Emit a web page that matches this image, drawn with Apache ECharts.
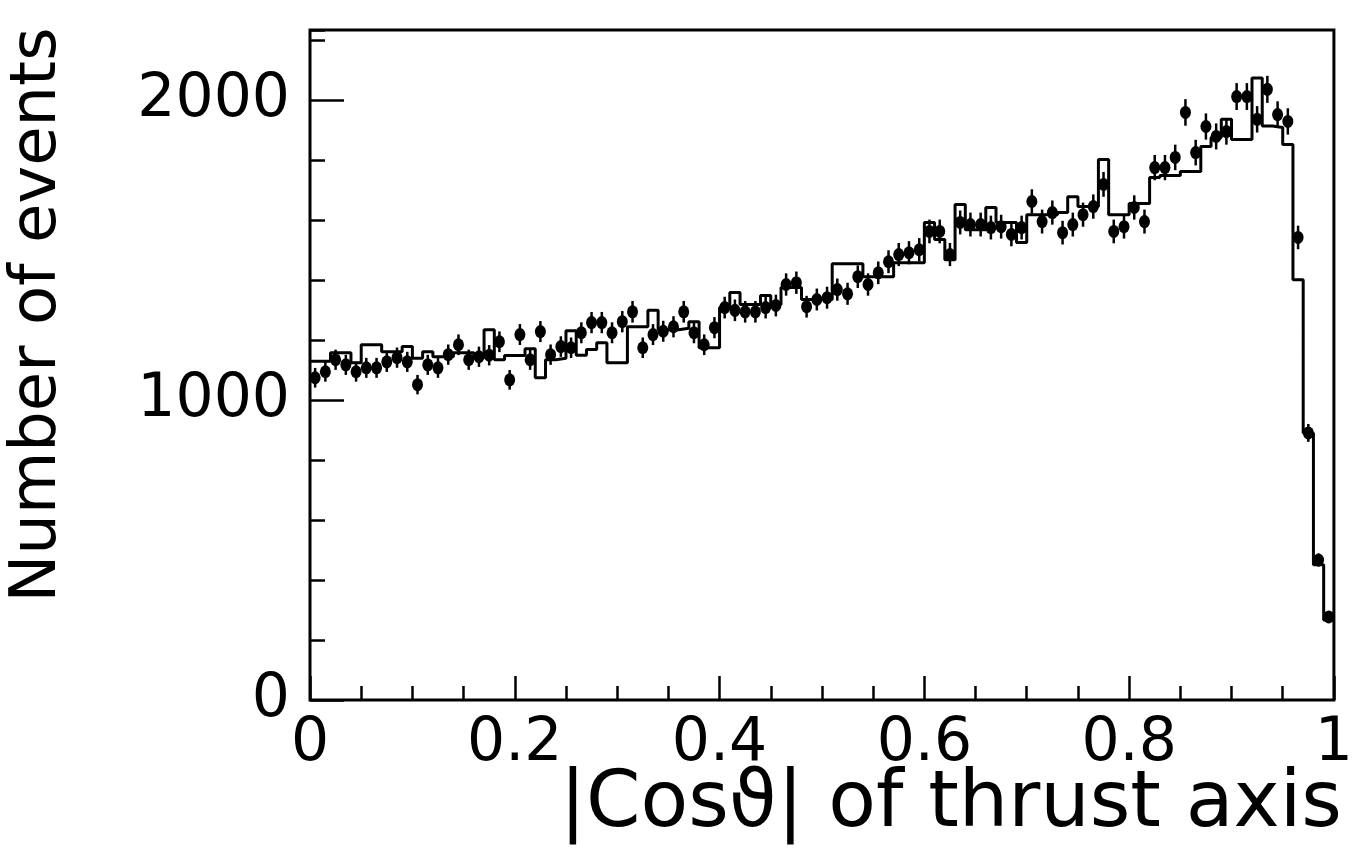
<!DOCTYPE html>
<html>
<head>
<meta charset="utf-8">
<script src="https://cdn.jsdelivr.net/npm/echarts@6/dist/echarts.min.js"></script>
<style>
html,body{margin:0;padding:0;background:#fff;}
#chart{width:1356px;height:854px;}
</style>
</head>
<body>
<div id="chart"></div>
<script>
// |cos theta| bins: 100 bins of width 0.01 from 0 to 1
const binWidth = 0.01;
const nBins = 100;

// Measured data (points with error bars), one value per bin
const dataCounts = [
  1075,1095,1135,1118,1095,1108,1108,1128,1142,1128,
  1052,1118,1108,1152,1185,1135,1145,1150,1195,1068,
  1219,1135,1229,1152,1179,1175,1225,1259,1259,1225,
  1262,1295,1175,1219,1230,1245,1295,1225,1185,1242,
  1309,1300,1295,1295,1309,1316,1386,1392,1312,1336,
  1342,1369,1355,1412,1386,1425,1462,1486,1492,1502,
  1563,1563,1486,1593,1586,1586,1576,1579,1553,1576,
  1663,1596,1626,1559,1586,1619,1646,1720,1563,1579,
  1643,1596,1776,1776,1810,1960,1826,1913,1880,1896,
  2013,2013,1937,2037,1953,1930,1543,891,467,277
];

// Simulation histogram, one value per bin
const mcCounts = [
  1130,1130,1158,1158,1125,1185,1185,1162,1162,1179,
  1140,1162,1145,1145,1158,1158,1142,1235,1135,1149,
  1149,1172,1075,1135,1140,1232,1150,1169,1192,1125,
  1125,1245,1245,1300,1235,1235,1240,1262,1175,1175,
  1309,1359,1319,1319,1349,1319,1376,1376,1336,1336,
  1336,1455,1455,1455,1412,1412,1412,1459,1459,1459,
  1593,1536,1469,1653,1569,1569,1643,1593,1593,1526,
  1619,1619,1619,1626,1679,1646,1646,1803,1619,1619,
  1656,1656,1743,1750,1750,1763,1763,1846,1876,1937,
  1870,1870,2075,1915,1910,1853,1402,891,451,267
];

const xTickLabels = ['0','0.2','0.4','0.6','0.8','1'];
const yTickLabels = ['0','1000','2000'];

// series built from the arrays
const pointData = dataCounts.map((v, i) => [(i + 0.5) * binWidth, v, Math.sqrt(v)]); // sqrt(N) statistical error
const histData = mcCounts.map((v, i) => [i * binWidth, v]);
histData.push([nBins * binWidth, mcCounts[nBins - 1]]);

const FONT = 'DejaVu Sans';
const chart = echarts.init(document.getElementById('chart'), null, {renderer: 'canvas'});
chart.setOption({
  animation: false,
  backgroundColor: '#fff',
  grid: {left: 310, right: 19, top: 30, bottom: 154, show: true, borderColor: '#000', borderWidth: 3, backgroundColor: 'transparent'},
  xAxis: [{
    type: 'value', min: 0, max: 1, interval: 0.2,
    axisLine: {show: false},
    axisTick: {show: true, inside: true, length: 24, lineStyle: {color: '#000', width: 2.5}},
    minorTick: {show: true, splitNumber: 4, length: 14, lineStyle: {color: '#000', width: 2.5}},
    splitLine: {show: false},
    axisLabel: {margin: 14, color: '#000', fontFamily: FONT, fontSize: 60,
      formatter: v => { const k = Math.round(v / 0.2); return xTickLabels[k] !== undefined ? xTickLabels[k] : ''; }}
  }],
  yAxis: [{
    type: 'value', min: 0, max: 2235, interval: 1000,
    axisLine: {show: false},
    axisTick: {show: true, inside: true, length: 34, lineStyle: {color: '#000', width: 2.5}},
    splitLine: {show: false},
    axisLabel: {margin: 20, color: '#000', fontFamily: FONT, fontSize: 60, showMaxLabel: false,
      formatter: v => { const k = Math.round(v / 1000); return (v % 1000 === 0 && yTickLabels[k] !== undefined) ? yTickLabels[k] : ''; }}
  }, {
    type: 'value', min: 0, max: 2235, interval: 200, position: 'left',
    axisLine: {show: false},
    axisTick: {show: true, inside: true, length: 15, lineStyle: {color: '#000', width: 2.5}},
    splitLine: {show: false},
    axisLabel: {show: false}
  }],
  series: [{
    type: 'line', step: 'end', data: histData, symbol: 'none',
    lineStyle: {color: '#000', width: 3}, z: 3
  }, {
    type: 'custom', data: pointData, z: 4,
    renderItem: (params, api) => {
      const x = api.value(0), y = api.value(1), e = api.value(2);
      const p1 = api.coord([x, y - e]), p2 = api.coord([x, y + e]);
      return {type: 'line', shape: {x1: p1[0], y1: p1[1], x2: p2[0], y2: p2[1]}, style: {stroke: '#000', lineWidth: 2.5}};
    }
  }, {
    type: 'scatter', data: pointData.map(d => [d[0], d[1]]), symbol: 'circle', symbolSize: [11, 13],
    itemStyle: {color: '#000', opacity: 1}, z: 5
  }],
  graphic: [{
    type: 'text', x: 38, y: 315, rotation: Math.PI / 2,
    style: {text: 'Number of events', x: 0, y: 0, align: 'center', verticalAlign: 'middle', font: '64px "DejaVu Sans"', fill: '#000'}
  }, {
    type: 'text', x: 1342, y: 806,
    style: {text: '|Cosϑ| of thrust axis', x: 0, y: 0, align: 'right', verticalAlign: 'middle', font: '78px "DejaVu Sans"', fill: '#000'}
  }]
});
</script>
</body>
</html>
